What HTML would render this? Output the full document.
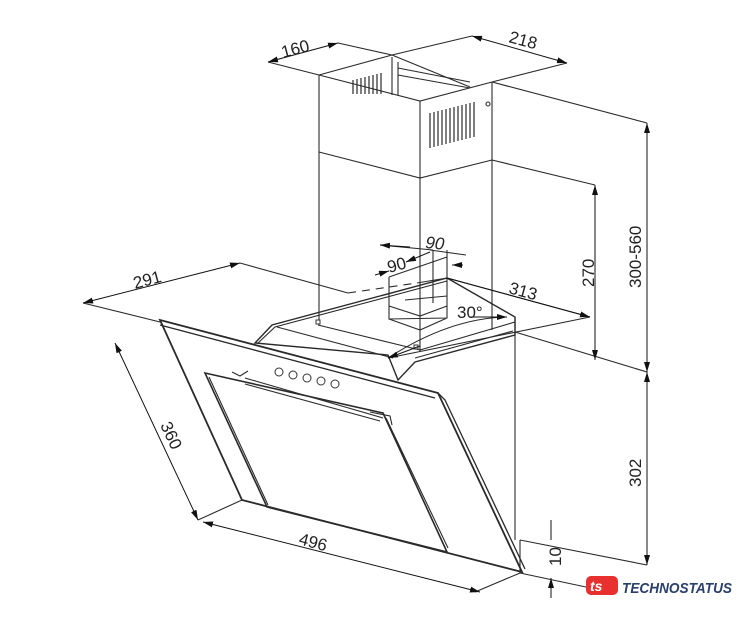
<!DOCTYPE html>
<html><head><meta charset="utf-8"><style>
html,body{margin:0;padding:0;background:#fff;width:742px;height:640px;overflow:hidden}
svg{display:block}
text{font-family:"Liberation Sans",sans-serif;fill:#222}
</style></head><body>
<svg width="742" height="640" viewBox="0 0 742 640" xmlns="http://www.w3.org/2000/svg">
<defs>
<marker id="a" viewBox="0 0 10 6" refX="10" refY="3" markerWidth="10" markerHeight="6" orient="auto-start-reverse" markerUnits="userSpaceOnUse"><path d="M0,0 L10,3 L0,6z" fill="#111"/></marker>
</defs>
<g stroke="#2a2a2a" stroke-width="1.1" fill="none">
<path d="M319,75 L392,55 M319,75 L420,101 L492,82 M392,55 L470,87"/>
<path d="M319,75 V320 M420,101 V352 M492,82 V330"/>
<path d="M319,152 L420,178 L492,160" />
<path d="M392,57 L392,95 M398,62 L398,95 M398,68 L470,82 M398,75 L470,88"/>
<g stroke-width="1.2">
<path d="M430,113v35M434,112v35M438,111v35M442,110v35M446,109v35M450,108v35M454,107v35M458,106v35M462,105v35M466,104v35M470,103v35M474,102v35"/>
<path d="M353,80v14M357,79v15M361,78v16M365,77v17M369,76v18M373,75v19M377,74v20M381,73v21"/>
</g>
<circle cx="488" cy="104" r="2"/>
<path d="M319,75 L268,62 M392,55 L338,43 M392,55 L472,36 M492,82 L567,63 M492,82 L647,123 M492,160 L595,185"/>
<path d="M515,332 L647,372 M240,263 L348,293 M83,303 L160,322 M447,278 L590,317"/>
<path d="M348,293 L417,283" stroke-dasharray="8,6"/>
<path d="M417,283 L447,278"/>
<path d="M590,317 L388,358"/>
<path d="M198,520 L242,500 M475,592 L520,573 M520,540 L647,565 M520,573 L600,590"/>
<path d="M389,277 V319 L447,318 V257 M389,277 L447,257 M389,319 L420,330 L447,318 M389,306 L420,316 L447,306 M405,300 L447,296"/>
<path d="M380,245 L433,250 M430,250 L466,255 M447,257 L447,250 M433,250 L433,303"/>
<path d="M255,343 L272,325 L447,278 L515,317 L515,335 L415,362 L398,380 L388,355 Z" stroke-width="1.4"/>
<path d="M258,343 L275,327 L447,281 M415,358 L513,331"/>
<path d="M277,327 L393,358 M318,325 L420,350 M420,350 L515,322"/>
<path d="M388,358 Q450,318 507,317" />
<path d="M515,317 V540 M520,540 V573"/>
<path d="M160,320 L438,393 L522,572 L242,500 Z" stroke-width="1.8"/>
<path d="M160,325 L435,398 M438,393 L445,400 L525,569" stroke-width="1.3"/>
<path d="M205,373 L383,413 L447,552 L267,507 Z" stroke-width="1.6"/>
<path d="M209,377 L268,505 M245,378 L383,418 M245,384 L380,421 M386,418 L448,548" />
<path d="M232,372 L240,376 L248,371 M370,412 L390,416 L392,425"/>
</g>
<g fill="#fff" stroke="#333">
<circle cx="279" cy="372" r="4"/><circle cx="293" cy="375" r="4"/><circle cx="307" cy="378" r="4"/><circle cx="321" cy="381" r="4"/><circle cx="335" cy="384" r="4"/>
<rect x="316" y="320" width="4" height="4"/><rect x="414" y="345" width="4" height="4"/>
</g>
<g stroke="#111" stroke-width="1" fill="none" marker-start="url(#a)" marker-end="url(#a)">
<path d="M268,62 L338,43"/>
<path d="M472,36 L567,63"/>
<path d="M647,123 V372"/>
<path d="M647,372 V565"/>
<path d="M595,185 V360"/>
<path d="M83,303 L240,263"/>
<path d="M115,343 L198,520"/>
<path d="M203,522 L480,592"/>
</g>
<g stroke="#111" stroke-width="1" fill="none">
<path d="M551,520 V540 M551,598 V578" marker-end="url(#a)"/>
<path d="M470,317 L507,317" marker-end="url(#a)"/>
<path d="M420,346 L388,358" marker-end="url(#a)"/>
<path d="M447,278 L590,317" marker-end="url(#a)"/>
<path d="M375,275 L389,271" marker-end="url(#a)"/>
<path d="M430,252 L406,262" marker-end="url(#a)"/>
<path d="M380,245 L410,247" marker-start="url(#a)"/>
<path d="M463,265 L452,265" marker-end="url(#a)"/>
</g>
<g font-size="17">
<text transform="translate(283,58) rotate(-15)">160</text>
<text transform="translate(508,42) rotate(15)">218</text>
<text transform="translate(641,288) rotate(-90)">300-560</text>
<text transform="translate(594,287) rotate(-90)">270</text>
<text transform="translate(641,487) rotate(-90)">302</text>
<text transform="translate(561,566) rotate(-90)">10</text>
<text transform="translate(135,289) rotate(-15)">291</text>
<text transform="translate(508,293) rotate(15)">313</text>
<text x="457" y="318">30°</text>
<text transform="translate(160,425) rotate(65)">360</text>
<text transform="translate(298,544) rotate(15)">496</text>
<text transform="translate(425,248) rotate(5)" font-style="italic">90</text>
<text transform="translate(389,273) rotate(-15)">90</text>
</g>
<g>
<rect x="586" y="576" width="32" height="19" rx="5" fill="#e8312f"/>
<text x="590" y="591" font-size="14" font-weight="bold" style="fill:#fff" font-style="italic">ts</text>
<text x="622" y="593" font-size="15" font-weight="bold" font-style="italic" style="fill:#2b3f6b" textLength="110" lengthAdjust="spacingAndGlyphs">TECHNOSTATUS</text>
</g>
</svg>
</body></html>
